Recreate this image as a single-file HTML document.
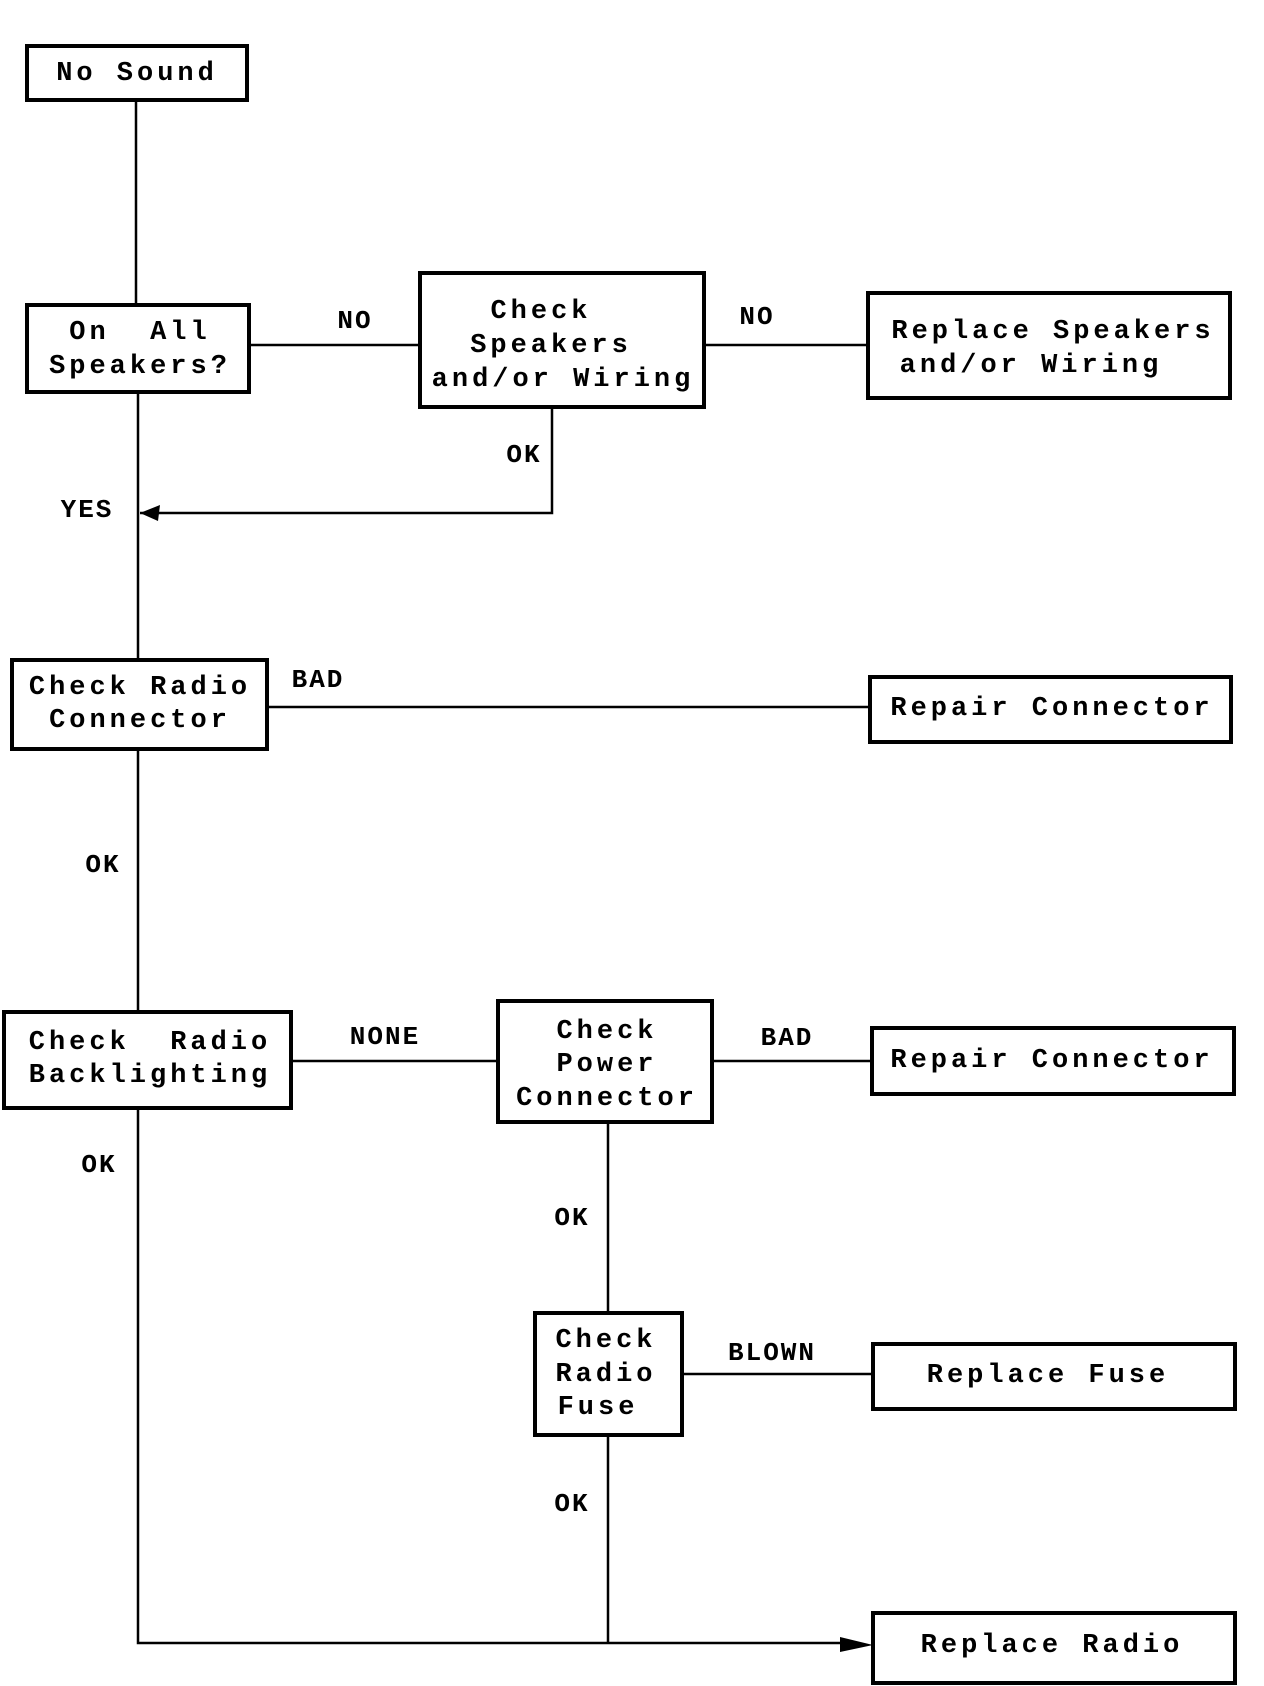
<!DOCTYPE html>
<html><head><meta charset="utf-8"><style>
html,body{margin:0;padding:0;background:#fff;}
svg{display:block;}
text{font-family:"Liberation Mono","DejaVu Sans Mono",monospace;font-weight:bold;font-size:27px;fill:#000;letter-spacing:4px;dominant-baseline:middle;}
.l{font-size:26px;letter-spacing:2px;}
rect{fill:#fff;stroke:#000;stroke-width:4;}
line,polyline{stroke:#000;stroke-width:2.5;fill:none;}
</style></head><body>
<svg width="1264" height="1686" viewBox="0 0 1264 1686" xmlns="http://www.w3.org/2000/svg">
<line x1="136" y1="100" x2="136" y2="305"/>
<line x1="138" y1="392" x2="138" y2="660"/>
<line x1="249" y1="345" x2="420" y2="345"/>
<line x1="704" y1="345" x2="868" y2="345"/>
<polyline points="552,407 552,513 140,513"/>
<polygon points="140,513 160,505 158,521" fill="#000"/>
<line x1="267" y1="707" x2="870" y2="707"/>
<line x1="138" y1="749" x2="138" y2="1012"/>
<line x1="291" y1="1061" x2="498" y2="1061"/>
<line x1="712" y1="1061" x2="872" y2="1061"/>
<line x1="608" y1="1122" x2="608" y2="1313"/>
<line x1="682" y1="1374" x2="873" y2="1374"/>
<line x1="608" y1="1435" x2="608" y2="1643"/>
<polyline points="138,1108 138,1643 853,1643"/>
<polygon points="873,1645 840,1637 840,1652" fill="#000"/>

<rect x="27" y="46" width="220" height="54"/>
<text x="137" y="73" text-anchor="middle">No Sound</text>

<rect x="27" y="305" width="222" height="87"/>
<text x="140" y="332" text-anchor="middle">On&#160;&#160;All</text>
<text x="140" y="366" text-anchor="middle">Speakers?</text>

<rect x="420" y="273" width="284" height="134"/>
<text x="541" y="311" text-anchor="middle">Check</text>
<text x="551" y="345" text-anchor="middle">Speakers</text>
<text x="563" y="379" text-anchor="middle">and/or Wiring</text>

<rect x="868" y="293" width="362" height="105"/>
<text x="1053" y="331" text-anchor="middle">Replace Speakers</text>
<text x="1031" y="365" text-anchor="middle">and/or Wiring</text>

<rect x="12" y="660" width="255" height="89"/>
<text x="140" y="687" text-anchor="middle">Check Radio</text>
<text x="140" y="720" text-anchor="middle">Connector</text>

<rect x="870" y="677" width="361" height="65"/>
<text x="1052" y="708" text-anchor="middle">Repair Connector</text>

<rect x="4" y="1012" width="287" height="96"/>
<text x="150" y="1042" text-anchor="middle">Check&#160;&#160;Radio</text>
<text x="150" y="1075" text-anchor="middle">Backlighting</text>

<rect x="498" y="1001" width="214" height="121"/>
<text x="607" y="1031" text-anchor="middle">Check</text>
<text x="607" y="1064" text-anchor="middle">Power</text>
<text x="607" y="1098" text-anchor="middle">Connector</text>

<rect x="872" y="1028" width="362" height="66"/>
<text x="1052" y="1060" text-anchor="middle">Repair Connector</text>

<rect x="535" y="1313" width="147" height="122"/>
<text x="606" y="1340" text-anchor="middle">Check</text>
<text x="606" y="1374" text-anchor="middle">Radio</text>
<text x="598" y="1407" text-anchor="middle">Fuse</text>

<rect x="873" y="1344" width="362" height="65"/>
<text x="1048" y="1375" text-anchor="middle">Replace Fuse</text>

<rect x="873" y="1613" width="362" height="70"/>
<text x="1052" y="1645" text-anchor="middle">Replace Radio</text>

<text class="l" x="355" y="321" text-anchor="middle">NO</text>
<text class="l" x="757" y="317" text-anchor="middle">NO</text>
<text class="l" x="524" y="455" text-anchor="middle">OK</text>
<text class="l" x="87" y="510" text-anchor="middle">YES</text>
<text class="l" x="318" y="680" text-anchor="middle">BAD</text>
<text class="l" x="103" y="865" text-anchor="middle">OK</text>
<text class="l" x="385" y="1037" text-anchor="middle">NONE</text>
<text class="l" x="787" y="1038" text-anchor="middle">BAD</text>
<text class="l" x="99" y="1165" text-anchor="middle">OK</text>
<text class="l" x="572" y="1218" text-anchor="middle">OK</text>
<text class="l" x="772" y="1353" text-anchor="middle">BLOWN</text>
<text class="l" x="572" y="1504" text-anchor="middle">OK</text>
</svg>
</body></html>
